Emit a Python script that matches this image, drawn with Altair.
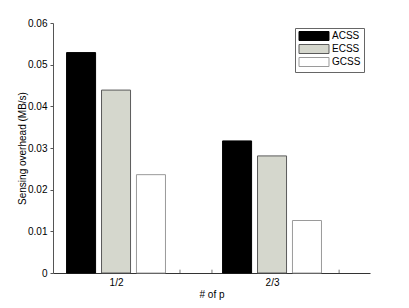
import altair as alt
import pandas as pd

groups = ["1/2", "2/3"]
series = ["ACSS", "ECSS", "GCSS"]
acss = [0.0529, 0.0317]
ecss = [0.0439, 0.0281]
gcss = [0.0236, 0.0126]
minor_ticks = [1.41, 1.615, 2.43]

fills = ["#000000", "#d5d7cd", "#ffffff"]
strokes = ["#000000", "#5a5a5a", "#9a9a9a"]

step = 0.224
half = 0.093
rows = []
for si, (name, vals) in enumerate(zip(series, [acss, ecss, gcss])):
    for gi, v in enumerate(vals):
        c = gi + 1 + (si - 1) * step
        rows.append({"series": name, "group": groups[gi], "x0": c - half, "x1": c + half,
                     "base": 0.0, "value": v})
df = pd.DataFrame(rows)
ticks_df = pd.DataFrame({"t": minor_ticks, "y0": 0.0, "y1": 0.0008})

xscale = alt.Scale(domain=[0.596, 2.628], nice=False, zero=False)
yscale = alt.Scale(domain=[0, 0.06], nice=False)

bars = alt.Chart(df).mark_bar(strokeWidth=1).encode(
    x=alt.X("x0:Q", scale=xscale,
            axis=alt.Axis(values=[1, 2], labelExpr="datum.value == 1 ? '1/2' : '2/3'",
                          title="# of p", grid=False, tickSize=0, domain=True,
                          domainColor="#333333", offset=0,
                          labelPadding=4, titlePadding=2)),
    x2="x1:Q",
    y=alt.Y("base:Q", scale=yscale,
            axis=alt.Axis(values=[0, 0.01, 0.02, 0.03, 0.04, 0.05, 0.06], format="~g",
                          title="Sensing overhead (MB/s)", grid=False, tickSize=3,
                          domain=True, offset=0,
                          domainColor="#555555", tickColor="#555555", labelPadding=3,
                          titlePadding=0)),
    y2="value:Q",
    fill=alt.Fill("series:N", scale=alt.Scale(domain=series, range=fills),
                  legend=alt.Legend(title=None, orient="none", legendX=242, legendY=5,
                                    symbolType="M-3.33,-1H3.33V1H-3.33Z", symbolSize=81,
                                    symbolStrokeWidth=1, rowPadding=-1, symbolOffset=11,
                                    strokeColor="#666666", padding=3, labelOffset=13,
                                    fillColor="white")),
    stroke=alt.Stroke("series:N", scale=alt.Scale(domain=series, range=strokes)),
)

minor = alt.Chart(ticks_df).mark_rule(color="#777777", strokeWidth=1).encode(
    x=alt.X("t:Q", scale=xscale),
    y=alt.Y("y0:Q", scale=yscale),
    y2="y1:Q",
)

chart = alt.layer(bars, minor).properties(
    width=317, height=250,
    autosize=alt.AutoSizeParams(type="none"),
    padding={"left": 45, "top": 15, "right": 30, "bottom": 30},
).configure_view(stroke=None).configure_axis(
    labelFont="Liberation Sans", titleFont="Liberation Sans",
    labelFontSize=10, titleFontSize=10, titleFontWeight="normal",
    labelColor="#000000", titleColor="#000000",
).configure_legend(labelFont="Liberation Sans", labelFontSize=10, labelColor="#000000")

chart.save("out.html", embed_options={"renderer": "svg", "actions": False})
